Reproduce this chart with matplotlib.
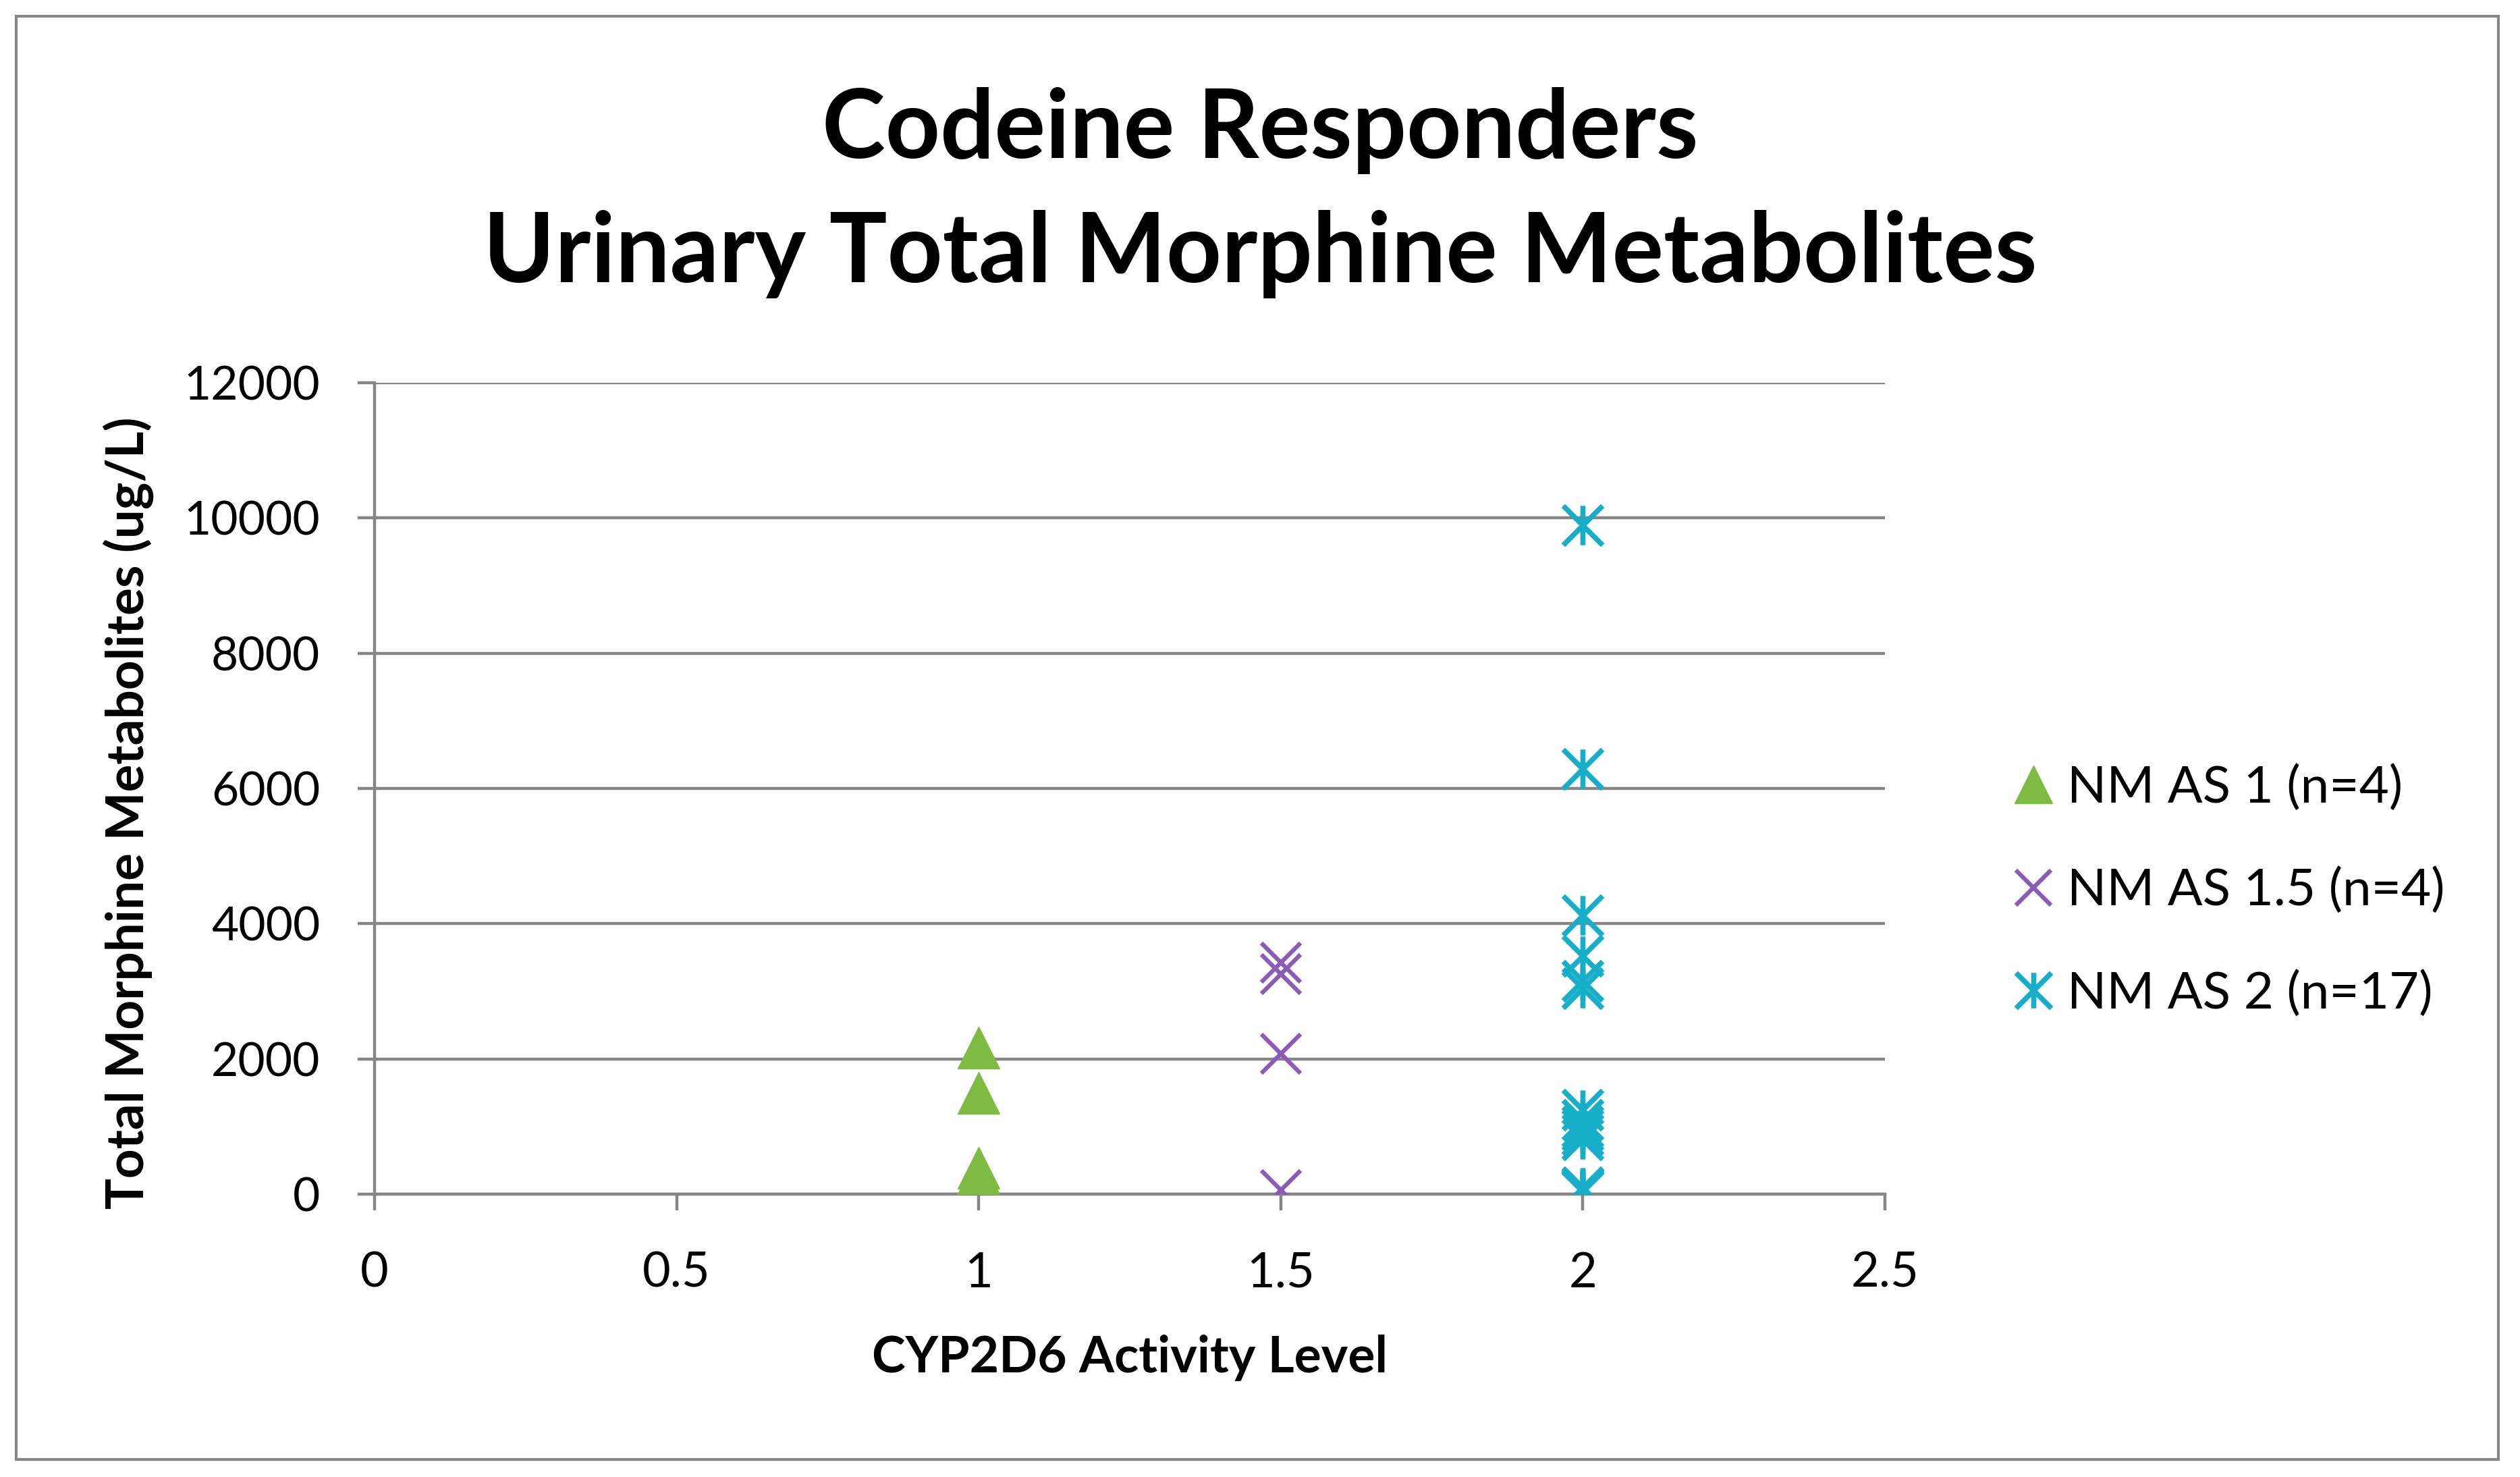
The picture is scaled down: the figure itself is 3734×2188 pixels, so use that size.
import matplotlib
matplotlib.use("Agg")
import matplotlib.pyplot as plt
from matplotlib.path import Path
from matplotlib.patches import Rectangle

plt.rcParams['font.family'] = ['Lato', 'DejaVu Sans']

# data
as1_x = [1, 1, 1, 1]
as1_y = [2170, 1500, 390, 305]

as15_x = [1.5, 1.5, 1.5, 1.5]
as15_y = [3420, 3250, 2080, 60]

as2_x = [2] * 17
as2_y = [9890, 6290, 4120, 3520, 3150, 3040,
         1250, 1100, 1000, 950, 880, 810,
         100, 80, 60, 50, 40]

labels = ["NM AS 1 (n=4)", "NM AS 1.5 (n=4)", "NM AS 2 (n=17)"]
x_ticks = [0, 0.5, 1, 1.5, 2, 2.5]
x_tick_labels = ["0", "0.5", "1", "1.5", "2", "2.5"]
y_ticks = [0, 2000, 4000, 6000, 8000, 10000, 12000]

green = '#7DBB42'
purple = '#8A5CB8'
cyan = '#17AEC9'
grid_gray = '#868686'

# excel style star: an X with a vertical bar
star = Path([(-1, -1), (1, 1), (-1, 1), (1, -1), (0, -1), (0, 1)],
            [Path.MOVETO, Path.LINETO, Path.MOVETO, Path.LINETO, Path.MOVETO, Path.LINETO])

fig = plt.figure(figsize=(37.34, 21.88), dpi=100)
ax = fig.add_axes([0.1486, 0.1915, 0.5994, 0.5494])

ax.plot(as1_x, as1_y, linestyle='none', marker='^', markersize=45,
        color=green, label=labels[0], zorder=3)
ax.plot(as15_x, as15_y, linestyle='none', marker='x', markersize=42,
        markeredgewidth=4.5, color=purple, label=labels[1], zorder=3)
ax.plot(as2_x, as2_y, linestyle='none', marker=star, markersize=42,
        markeredgewidth=5.5, markerfacecolor='none', markeredgecolor=cyan,
        label=labels[2], zorder=3)

ax.set_xlim(0, 2.5)
ax.set_ylim(0, 12000)
ax.set_xticks(x_ticks)
ax.set_xticklabels(x_tick_labels)
ax.set_yticks(y_ticks)

ax.grid(axis='y', color=grid_gray, linewidth=3.2)
ax.set_axisbelow(True)
for s in ['top', 'right']:
    ax.spines[s].set_visible(False)
for s in ['left', 'bottom']:
    ax.spines[s].set_color(grid_gray)
    ax.spines[s].set_linewidth(3.2)

ax.tick_params(axis='y', length=18, width=3.2, color=grid_gray, pad=40, labelsize=50)
ax.tick_params(axis='x', length=17, width=3.2, color=grid_gray, pad=44, labelsize=52)

ax.set_xlabel("CYP2D6 Activity Level", fontsize=54, fontweight='bold')
ax.xaxis.label.set_va('center')
ax.xaxis.set_label_coords(0.5, -0.202)
ax.set_ylabel("Total Morphine Metabolites (ug/L)", fontsize=55, fontweight='bold')
ax.yaxis.label.set_va('center')
ax.yaxis.set_label_coords(-0.163, 0.47)

fig.text(0.5, 0.9117, "Codeine Responders", ha='center', va='center',
         fontsize=102, fontweight='bold')
fig.text(0.5, 0.828, "Urinary Total Morphine Metabolites", ha='center', va='center',
         fontsize=103, fontweight='bold')

fig.legend(loc='center left', bbox_to_anchor=(0.7885, 0.397), frameon=False,
           fontsize=55, handlelength=0.8, handletextpad=0.25, labelspacing=1.08,
           borderpad=0, markerscale=0.9)

fig.patches.append(Rectangle((0.0064, 0.0119), 0.985, 0.977, transform=fig.transFigure,
                             fill=False, edgecolor=grid_gray, linewidth=3))

fig.savefig("out.png", dpi=100)
